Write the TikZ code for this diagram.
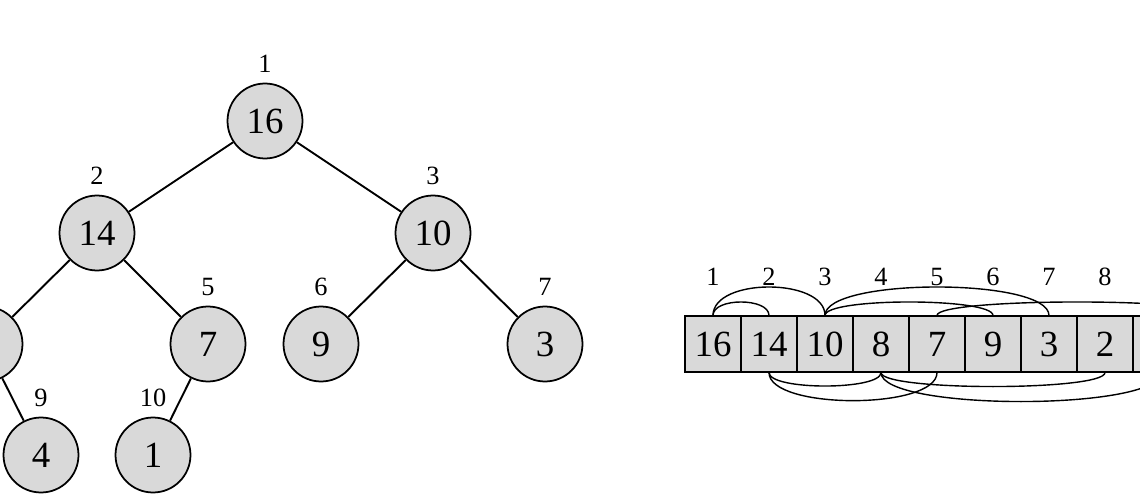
\documentclass[tikz,border=0pt]{standalone}
\usepackage{fontspec}
\setmainfont{Liberation Serif}

\definecolor{heapgray}{RGB}{217,217,217}
\tikzset{
  heapnode/.style={circle, draw, line width=1pt, fill=heapgray, minimum size=1.5cm, inner sep=0pt, font=\fontsize{21}{21}\selectfont},
  cell/.style={rectangle, draw, line width=0.6pt, fill=heapgray, minimum size=1.12cm, inner sep=0pt, font=\fontsize{21}{21}\selectfont},
  idx/.style={inner sep=0pt, font=\fontsize{15}{15}\selectfont},
  link/.style={line width=1.1pt},
  arcline/.style={line width=0.8pt}
}

\begin{document}
\begin{tikzpicture}[x=0.02cm, y=-0.02cm]
\useasboundingbox (0,0) rectangle (1140,500);
\clip (0,0) rectangle (1140,500);

% tree
\node[heapnode] (n1) at (265,121) {16};
\node[heapnode] (n2) at (97,233) {14};
\node[heapnode] (n3) at (433,233) {10};
\node[heapnode] (n4) at (-15,344) {8};
\node[heapnode] (n5) at (208,344) {7};
\node[heapnode] (n6) at (321,344) {9};
\node[heapnode] (n7) at (545,344) {3};
\node[heapnode] (n9) at (41,455) {4};
\node[heapnode] (n10) at (153,455) {1};

\foreach \a/\b in {n1/n2, n1/n3, n2/n4, n2/n5, n3/n6, n3/n7, n4/n9, n5/n10}
  \draw[link] (\a) -- (\b);

% tree indices
\foreach \i in {1,2,3,5,6,7,9,10}
  \node[idx] (t\i) at ([yshift=1.14cm]n\i) {\i};

% array
\foreach \v [count=\i] in {16,14,10,8,7,9,3,2,4,1} {
  \node[cell] (c\i) at (657+56*\i,344) {\v};
  \node[idx] (a\i) at (657+56*\i,277) {\i};
}

% links above
\foreach \a/\b/\c in {1/2/18, 1/3/38, 3/6/18, 3/7/38, 5/10/18}
  \draw[arcline] (c\a.north) .. controls +(0,-\c) and +(0,-\c) .. (c\b.north);
% links below
\foreach \a/\b/\c in {2/4/18, 2/5/37.5, 4/8/18.7, 4/9/38.7}
  \draw[arcline] (c\a.south) .. controls +(0,\c) and +(0,\c) .. (c\b.south);

\end{tikzpicture}
\end{document}
